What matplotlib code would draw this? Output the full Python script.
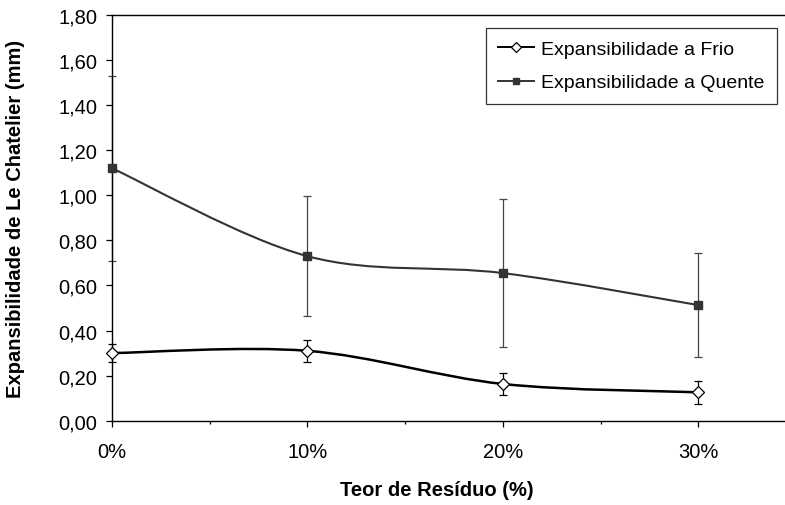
import numpy as np
import matplotlib.pyplot as plt
from matplotlib.path import Path
from matplotlib.patches import PathPatch
from matplotlib.lines import Line2D
from matplotlib.ticker import FuncFormatter, MultipleLocator

plt.rcParams['font.family'] = ['Liberation Sans', 'DejaVu Sans']

# teor de residuo (fracao) e expansibilidade (mm)
teor = [0.0, 0.10, 0.20, 0.30]
frio = [0.30, 0.31, 0.163, 0.126]
frio_err = [0.04, 0.048, 0.049, 0.05]
quente = [1.12, 0.73, 0.655, 0.513]
quente_err = [0.41, 0.265, 0.327, 0.23]


def curva_suave(x, y):
    # linha suavizada (bezier tipo catmull-rom passando pelos pontos)
    pts = np.column_stack([x, y]).astype(float)
    ext = np.vstack([pts[0], pts, pts[-1]])
    verts = [pts[0]]
    codes = [Path.MOVETO]
    for i in range(len(pts) - 1):
        p0, p1, p2, p3 = ext[i], ext[i + 1], ext[i + 2], ext[i + 3]
        verts += [p1 + (p2 - p0) / 6, p2 - (p3 - p1) / 6, p2]
        codes += [Path.CURVE4] * 3
    return Path(verts, codes)


fig = plt.figure(figsize=(7.85, 5.06), dpi=100)
ax = fig.add_axes([112 / 785, 84.3 / 506, 684 / 785, 405.7 / 506])

cor_q = '#333333'
cor_err = '#444444'

# expansibilidade a quente
ax.add_patch(PathPatch(curva_suave(teor, quente), fill=False, edgecolor=cor_q, lw=1.5, zorder=3))
ax.errorbar(teor, quente, yerr=quente_err, fmt='none', ecolor=cor_err, elinewidth=0.9,
            capsize=3, capthick=0.9, zorder=2, clip_on=False)
ax.plot(teor, quente, ls='none', marker='s', ms=5.8, mfc=cor_q, mec=cor_q, zorder=4, clip_on=False)

# expansibilidade a frio
ax.add_patch(PathPatch(curva_suave(teor, frio), fill=False, edgecolor='black', lw=1.8, zorder=3))
ax.errorbar(teor, frio, yerr=frio_err, fmt='none', ecolor='black', elinewidth=0.9,
            capsize=3, capthick=0.9, zorder=2, clip_on=False)
ax.plot(teor, frio, ls='none', marker='D', ms=6.5, mfc='white', mec='black', mew=0.9,
        zorder=4, clip_on=False)

ax.set_xlim(0, 0.35)
ax.set_ylim(0, 1.8)
ax.xaxis.set_major_locator(MultipleLocator(0.1))
ax.xaxis.set_minor_locator(MultipleLocator(0.05))
ax.yaxis.set_major_locator(MultipleLocator(0.2))
ax.xaxis.set_major_formatter(FuncFormatter(lambda v, p: f"{v * 100:.0f}%" if v < 0.31 else ""))
ax.yaxis.set_major_formatter(FuncFormatter(lambda v, p: f"{v:.2f}".replace('.', ',')))

ax.tick_params(axis='both', which='major', direction='out', length=4.3, width=0.9,
               labelsize=14.5, colors='black')
ax.tick_params(axis='y', pad=6.5)
ax.tick_params(axis='x', pad=11)
ax.tick_params(axis='x', which='minor', direction='out', length=2.2, width=0.9)
for s in ax.spines.values():
    s.set_linewidth(1.0)
    s.set_color('black')

ax.set_xlabel('Teor de Resíduo (%)', fontsize=14.5, fontweight='bold')
ax.set_ylabel('Expansibilidade de Le Chatelier (mm)', fontsize=14.5, fontweight='bold')
ax.xaxis.set_label_coords(0.475, -0.146)
ax.yaxis.set_label_coords(-0.127, 0.5)

handles = [
    Line2D([], [], color='black', lw=1.4, marker='D', ms=5, mfc='white', mec='black', mew=0.9),
    Line2D([], [], color=cor_q, lw=1.4, marker='s', ms=5, mfc=cor_q, mec=cor_q),
]
leg = ax.legend(handles, ['Expansibilidade a Frio', 'Expansibilidade a Quente'],
                loc='upper right', bbox_to_anchor=(777 / 785, 1 - 29 / 506),
                bbox_transform=fig.transFigure, fontsize=14, frameon=True, fancybox=False,
                borderpad=0.65, labelspacing=0.8, handlelength=1.85, handletextpad=0.35,
                borderaxespad=0)
leg.get_frame().set_edgecolor('black')
leg.get_frame().set_linewidth(0.9)

fig.savefig('out.png', dpi=100)
